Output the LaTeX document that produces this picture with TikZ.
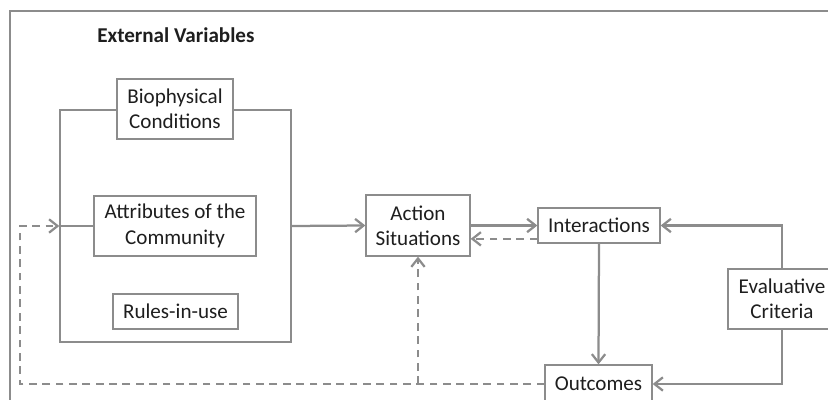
\documentclass[tikz,border=0pt]{standalone}
\usepackage{fontspec}
\setmainfont{Carlito}
\usepackage{tikz}
\usetikzlibrary{arrows.meta,positioning}
\definecolor{linegray}{HTML}{8C8C8C}
\definecolor{textgray}{HTML}{1E1E1E}

\begin{document}
\begin{tikzpicture}[x=0.025cm, y=-0.025cm,
    box/.style={draw=linegray, line width=0.9pt, fill=white, rectangle, inner sep=0pt, align=center, text=textgray, font=\fontsize{15}{18}\selectfont},
    flow/.style={draw=linegray, line width=1.6pt, -{Straight Barb[length=6pt,width=9.5pt]}},
    back/.style={flow, dash pattern=on 5.5pt off 4pt},
    link/.style={draw=linegray, line width=1.6pt}]
    \clip (0,0) rectangle (828,400);
    \draw[link] (10,11) rectangle (860,430);

    \node[anchor=west, inner sep=0pt, text=textgray, font=\fontsize{15}{18}\selectfont\bfseries] (title) at (97,35) {External Variables};

    \node[box, minimum width=5.775cm, minimum height=5.8cm] (ext) at (175.5,226) {};
    \node[box, minimum width=2.9cm, minimum height=1.5cm] (bio) at (175,109) {Biophysical\\Conditions};
    \node[box, minimum width=4.05cm, minimum height=1.5cm] (attr) at (175,226) {Attributes of the\\Community};
    \node[box, minimum width=3.125cm, minimum height=0.875cm] (rules) at (175.5,311.5) {Rules-in-use};

    \node[box, minimum width=2.6cm, minimum height=1.525cm] (act) at (418,225.5) {Action\\Situations};
    \node[box, minimum width=3.05cm, minimum height=0.875cm] (inter) at (599,225.5) {Interactions};
    \node[box, minimum width=2.675cm, minimum height=0.95cm] (outc) at (598.5,384) {Outcomes};
    \node[box, minimum width=2.7cm, minimum height=1.5cm] (eval) at (782,299) {Evaluative\\Criteria};

    \coordinate (lft) at (20,384);
    \coordinate (mid) at (act.south |- lft);

    \draw[link] (ext.west) -- (attr.west);
    \draw[flow] (ext.east) -- (act.west);
    \draw[flow] (act.east) -- (inter.west);
    \draw[back] ([yshift=-9.5pt]inter.west) -- ([yshift=-9.5pt]act.east);
    \draw[flow] (inter.south) -- (outc.north);
    \draw[flow] (eval.north) |- (inter.east);
    \draw[flow] (eval.south) |- (outc.east);
    \draw[back] (outc.west) -- (lft) |- (ext.west);
    \draw[back] (mid) -- (act.south);
\end{tikzpicture}
\end{document}
